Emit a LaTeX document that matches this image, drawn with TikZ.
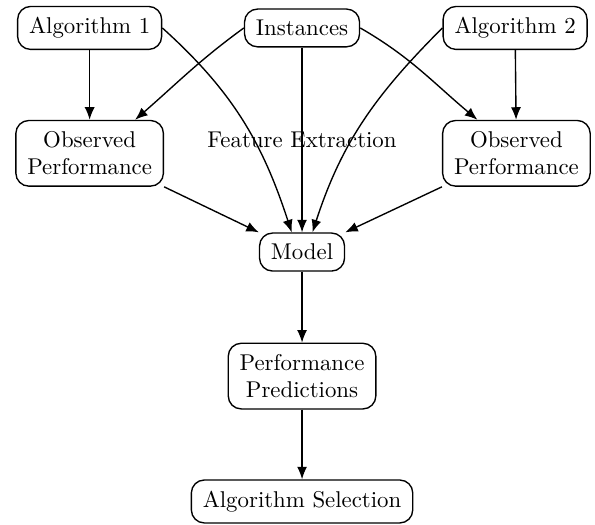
\documentclass[tikz,border=0pt]{standalone}
\usepackage{tikz}
\usetikzlibrary{positioning}
\usetikzlibrary{arrows.meta,shapes}
\usetikzlibrary{calc}

\begin{document}
\begin{tikzpicture}[scale=1, auto, swap,
  box/.style={draw, semithick, rounded corners=2mm, align=center, inner xsep=5pt, inner ysep=4.8pt},
  link/.style={semithick, -{Latex[length=5.5pt, width=4.4pt]}}]

 \useasboundingbox (-4.65,0) rectangle (4.51,-8.07);

 %top row
 \def\dx{3.27}
 \def\dy{-0.43};
 \node[box] (alg1) at (-\dx, \dy) {Algorithm 1};
 \node[box] (inst) at (0, \dy) {Instances};
 \node[box] (alg2) at (\dx+0.01, \dy) {Algorithm 2};

 %observed performance
 \def\dy{-2.36};
 \node[box] (obs1) at (-\dx, \dy) {Observed\\Performance};
 \node[box] (obs2) at (\dx+0.03, \dy) {Observed\\Performance};

 %chain down the middle
 \node[box] (model) at (0, -3.88) {Model};
 \node[box] (pred) at (0, -5.79) {Performance\\Predictions};
 \node[box] (sel) at (0, -7.72) {Algorithm Selection};

 %arrows
 \draw[link] (alg1) -- (obs1);
 \draw[link] (alg2) -- (obs2);
 \draw[link] (inst.west) to[out=216, in=41] ([xshift=7mm]obs1.north);
 \draw[link] (inst.east) to[out=-30, in=140] ([xshift=-6mm]obs2.north);
 \draw[link] (inst) -- node[midway, swap=false, anchor=center] (feat) {Feature Extraction} (model);
 \draw[link] (alg1.east) to[out=-42, in=108] ([xshift=-1.6mm]model.north);
 \draw[link] (alg2.west) to[out=-135, in=72] ([xshift=1.6mm]model.north);
 \draw[link] (obs1.south east) -- (model.north west);
 \draw[link] (obs2.south west) -- (model.north east);
 \draw[link] (model) -- (pred);
 \draw[link] (pred) -- (sel);

\end{tikzpicture}
\end{document}
